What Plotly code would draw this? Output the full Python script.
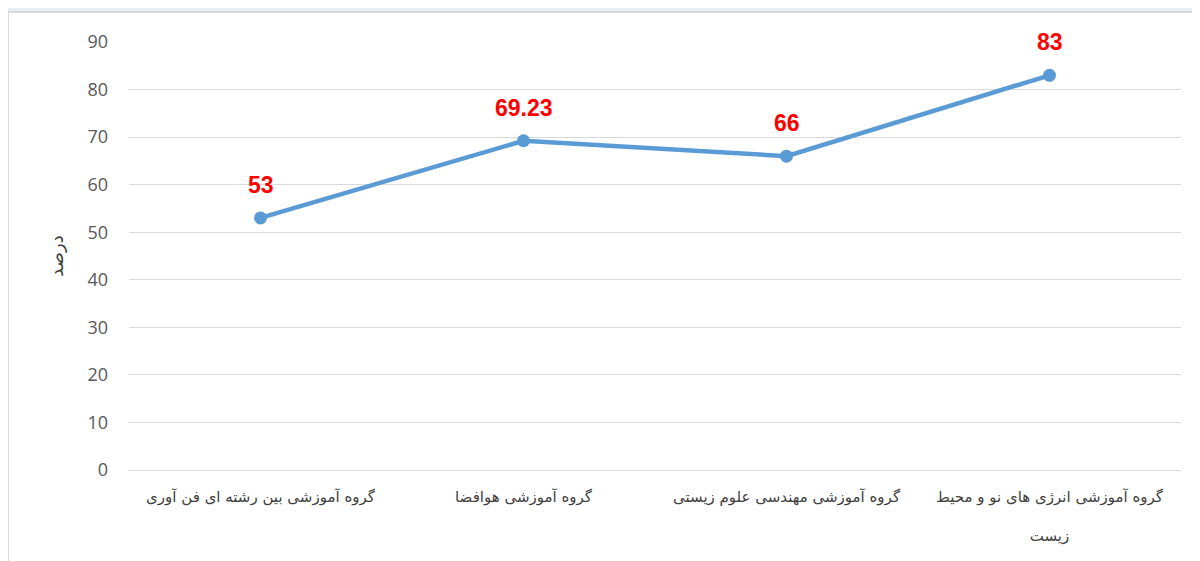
import plotly.graph_objects as go

categories = [
    "گروه آموزشی بین رشته ای فن آوری",
    "گروه آموزشی هوافضا",
    "گروه آموزشی مهندسی علوم زیستی",
    "گروه آموزشی انرژی های نو و محیط<br> <br>زیست",
]
values = [53, 69.23, 66, 83]
value_labels = ["53", "69.23", "66", "83"]
y_ticks = [0, 10, 20, 30, 40, 50, 60, 70, 80, 90]
y_title = "درصد"

x_idx = list(range(len(categories)))

L, T, W, H = 121, 34, 1052, 428

fig = go.Figure()
fig.add_trace(go.Scatter(
    x=x_idx, y=values, mode="lines+markers",
    line=dict(color="#5B9BD5", width=4.5),
    marker=dict(color="#5B9BD5", size=13),
    hoverinfo="skip", showlegend=False,
))

for xi, v, lab in zip(x_idx, values, value_labels):
    fig.add_annotation(x=xi, y=v, text="<b>" + lab + "</b>", showarrow=False,
                       yshift=33, font=dict(color="#FF0000", size=23, family="Liberation Sans, Arial"))

# frame shapes
fig.add_shape(type="rect", xref="paper", yref="paper",
              x0=-0.2, x1=1.1, y0=-0.3, y1=1.2,
              fillcolor="#E6EEF7", line_width=0, layer="below")
fig.add_shape(type="rect", xref="paper", yref="paper",
              x0=(0 - L) / W, x1=(1192 - L) / W,
              y0=(T + H - 560) / H, y1=(T + H - 4) / H,
              fillcolor="white", line=dict(color="#D0D0D0", width=1.5), layer="below")

fig.update_layout(
    width=1200, height=561,
    margin=dict(l=L, r=1200 - L - W, t=T, b=561 - T - H),
    paper_bgcolor="white", plot_bgcolor="rgba(0,0,0,0)",
    font=dict(family="DejaVu Sans, Noto Sans", color="#595959"),
    xaxis=dict(
        tickmode="array", tickvals=x_idx, ticktext=categories,
        range=[-0.5, 3.5], showgrid=False, zeroline=False, showline=False,
        tickfont=dict(size=15, color="#404040"), ticks="", ticklabelstandoff=16,
        fixedrange=True,
    ),
    yaxis=dict(
        range=[0, 90], tickvals=y_ticks, showgrid=True, gridcolor="#D9D9D9", gridwidth=1.3,
        zeroline=True, zerolinecolor="#D9D9D9", zerolinewidth=1.3,
        tickfont=dict(size=18, color="#595959", family="Open Sans, Liberation Sans"),
        ticks="", ticklabelstandoff=20,
        title=dict(text=y_title, font=dict(size=18, color="#404040"), standoff=19),
        fixedrange=True,
    ),
)

fig.write_html("out.html")
